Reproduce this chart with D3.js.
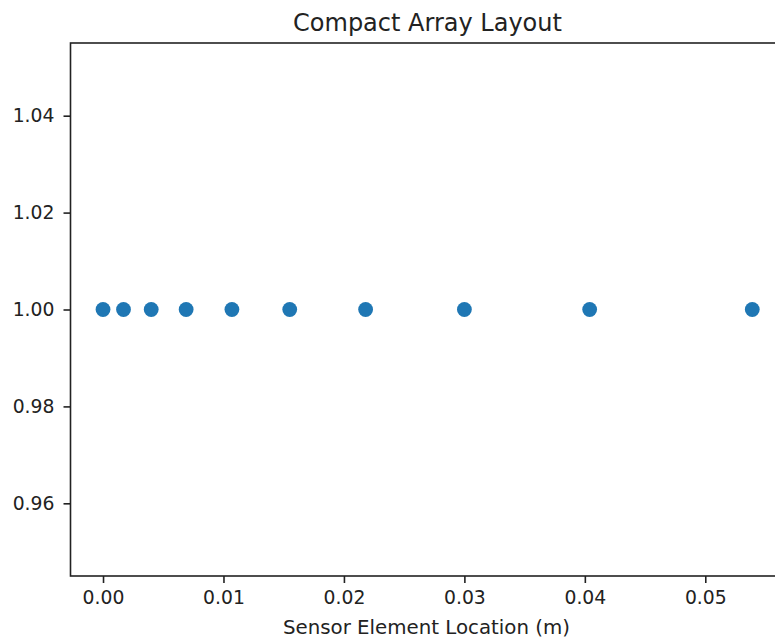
<!DOCTYPE html>
<html>
<head>
<meta charset="utf-8">
<script src="https://cdn.jsdelivr.net/npm/d3@7/dist/d3.min.js"></script>
<style>
  html, body { margin: 0; padding: 0; background: #fff; overflow: hidden; }
  svg { display: block; font-family: "DejaVu Sans", sans-serif; }
</style>
</head>
<body>
<svg id="chart" width="775" height="641"></svg>
<script>
// Sensor element positions along the array (metres)
const elementPositions = [0, 0.0017, 0.0040, 0.0069, 0.0107, 0.0155, 0.0218, 0.0300, 0.0404, 0.0539];
// Every element sits on the same row
const elementRow = [1, 1, 1, 1, 1, 1, 1, 1, 1, 1];
const xTickValues = [0.00, 0.01, 0.02, 0.03, 0.04, 0.05];
const yTickValues = [0.96, 0.98, 1.00, 1.02, 1.04];
const titleText = "Compact Array Layout";
const xLabelText = "Sensor Element Location (m)";

const svg = d3.select("#chart");
const plotLeft = 70.5, plotRight = 786, plotTop = 43, plotBottom = 576;
const tickFont = "18.8px";

const x = d3.scaleLinear().domain([-0.0027, 0.0567]).range([plotLeft, plotRight]);
const y = d3.scaleLinear().domain([0.945, 1.055]).range([plotBottom, plotTop]);

// Axes
const xAxis = svg.append("g")
  .attr("transform", `translate(0,${plotBottom})`)
  .call(d3.axisBottom(x).tickValues(xTickValues).tickFormat(d3.format(".2f"))
        .tickSizeInner(7).tickSizeOuter(0).tickPadding(8));
const yAxis = svg.append("g")
  .attr("transform", `translate(${plotLeft},0)`)
  .call(d3.axisLeft(y).tickValues(yTickValues).tickFormat(d3.format(".2f"))
        .tickSizeInner(7).tickSizeOuter(0).tickPadding(9));

[xAxis, yAxis].forEach(g => {
  g.select(".domain").remove();
  g.selectAll(".tick line").attr("stroke", "#222").attr("stroke-width", 1.6);
  g.selectAll(".tick text").attr("fill", "#222").style("font-size", tickFont)
    .style("font-family", "'DejaVu Sans', sans-serif");
});

// Spines
svg.append("rect")
  .attr("x", plotLeft).attr("y", plotTop)
  .attr("width", plotRight - plotLeft).attr("height", plotBottom - plotTop)
  .attr("fill", "none").attr("stroke", "#222").attr("stroke-width", 1.6);

// Elements
svg.append("g").selectAll("circle")
  .data(elementPositions.map((p, i) => ({ p, r: elementRow[i] })))
  .join("circle")
  .attr("cx", d => x(d.p))
  .attr("cy", d => y(d.r))
  .attr("r", 7.4)
  .attr("fill", "#1f77b4");

// Title and axis label
svg.append("text")
  .attr("x", 427.5).attr("y", 30.5)
  .attr("text-anchor", "middle")
  .style("font-size", "24px").attr("fill", "#222")
  .text(titleText);

svg.append("text")
  .attr("x", 426.5).attr("y", 634)
  .attr("text-anchor", "middle")
  .style("font-size", "19.8px").attr("fill", "#222")
  .text(xLabelText);
</script>
</body>
</html>
